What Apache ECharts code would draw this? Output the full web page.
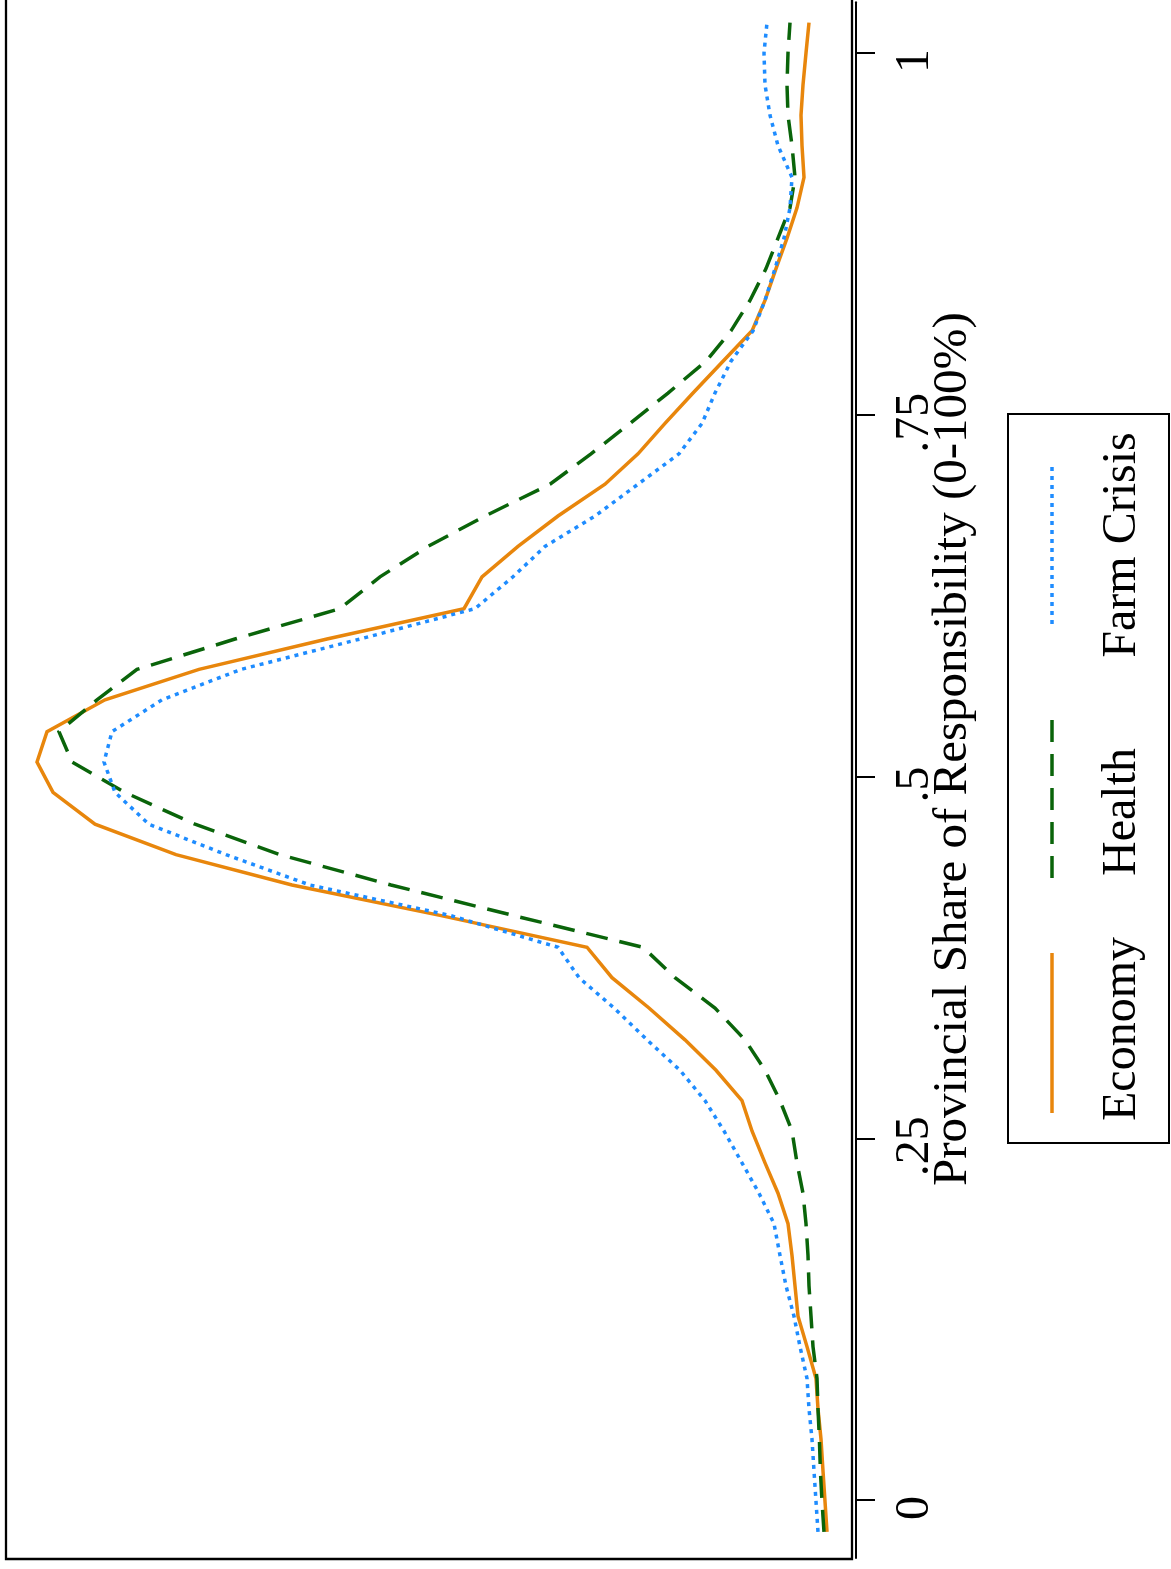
<!DOCTYPE html>
<html>
<head>
<meta charset="utf-8">
<script src="https://cdn.jsdelivr.net/npm/echarts@6/dist/echarts.min.js"></script>
<style>
html,body{margin:0;padding:0;background:#fff;}
#chart{width:1171px;height:1569px;}
</style>
</head>
<body>
<div id="chart"></div>
<script>
// Evaluation points of the kernel density (provincial share, 0-1)
const shares = [-0.022,-0.001,0.020,0.042,0.063,0.084,0.106,0.127,0.148,0.169,
  0.191,0.212,0.233,0.255,0.276,0.297,0.318,0.340,0.361,0.382,
  0.404,0.425,0.446,0.467,0.489,0.510,0.531,0.553,0.574,0.595,
  0.616,0.638,0.659,0.680,0.702,0.723,0.744,0.765,0.787,0.808,
  0.829,0.851,0.872,0.893,0.914,0.936,0.957,0.978,1.000,1.021];

const economy = [0.145,0.155,0.165,0.175,0.190,0.200,0.245,0.290,0.305,0.320,
  0.340,0.390,0.455,0.520,0.570,0.700,0.855,1.035,1.220,1.345,
  2.080,2.820,3.400,3.805,4.015,4.095,4.045,3.755,3.285,2.645,
  1.960,1.870,1.690,1.490,1.255,1.090,0.955,0.815,0.665,0.520,
  0.455,0.400,0.345,0.295,0.260,0.270,0.275,0.265,0.250,0.235];

const health = [0.160,0.170,0.178,0.183,0.190,0.195,0.215,0.225,0.235,0.240,
  0.250,0.265,0.295,0.320,0.380,0.455,0.555,0.705,0.905,1.065,
  1.715,2.325,2.880,3.305,3.655,3.920,3.985,3.795,3.595,3.105,
  2.580,2.380,2.140,1.855,1.530,1.325,1.130,0.940,0.750,0.625,
  0.530,0.450,0.390,0.330,0.305,0.320,0.340,0.345,0.340,0.330];

const farmCrisis = [0.190,0.200,0.210,0.220,0.235,0.245,0.280,0.310,0.350,0.380,
  0.410,0.485,0.570,0.660,0.755,0.880,1.045,1.210,1.385,1.490,
  2.030,2.730,3.150,3.535,3.705,3.760,3.720,3.470,3.075,2.480,
  1.905,1.715,1.555,1.305,1.090,0.885,0.770,0.705,0.625,0.515,
  0.455,0.405,0.360,0.330,0.320,0.390,0.430,0.455,0.460,0.445];

const seriesNames = ['Economy','Health','Farm Crisis'];
const tickValues = [0, 0.25, 0.5, 0.75, 1];
const tickLabels = ['0', '.25', '.5', '.75', '1'];
const axisTitle = 'Provincial Share of Responsibility (0-100%)';

const colors = ['#e8860c', '#0a640a', '#1e8cff'];
const dashes = ['solid', [22, 12], [4, 5]];
const FONT = '"Liberation Serif", "Times New Roman", serif';

function pairs(dens) { return dens.map((d, i) => [d, shares[i]]); }
const allSeries = [economy, health, farmCrisis];

const chart = echarts.init(document.getElementById('chart'), null, {renderer: 'canvas'});

const legendKeys = [
  {y1: 953, y2: 1113, ty: 1029},
  {y1: 720, y2: 880, ty: 812},
  {y1: 467, y2: 627, ty: 545}
];

const graphics = [
  {type: 'rect', shape: {x: 6, y: -10, width: 846, height: 1569},
   style: {fill: 'none', stroke: '#000', lineWidth: 2.3}, z: 0},
  {type: 'rect', shape: {x: 1008, y: 414, width: 161, height: 729},
   style: {fill: '#fff', stroke: '#000', lineWidth: 2}, z: 10}
];
legendKeys.forEach((k, i) => {
  graphics.push({type: 'line', shape: {x1: 1052, y1: k.y1, x2: 1052, y2: k.y2},
    style: {stroke: colors[i], lineWidth: 3.5, lineDash: dashes[i] === 'solid' ? null : dashes[i], lineCap: 'butt'}, z: 11});
  graphics.push({type: 'text', x: 1122, y: k.ty, rotation: Math.PI / 2,
    style: {text: seriesNames[i], fill: '#000', font: '48px ' + FONT,
      align: 'center', verticalAlign: 'middle', textAlign: 'center', textVerticalAlign: 'middle'}, z: 11});
});

chart.setOption({
  animation: false,
  backgroundColor: '#fff',
  grid: {left: 6, right: 315, top: 2.355, bottom: 11.12, containLabel: false},
  xAxis: {type: 'value', min: 0, max: 4.25, inverse: true, show: false},
  yAxis: {
    type: 'value', position: 'right', min: -0.04, max: 1.035,
    splitLine: {show: false},
    axisLine: {show: true, lineStyle: {color: '#000', width: 2}},
    axisTick: {show: true, customValues: tickValues, length: 19, inside: false,
      lineStyle: {color: '#000', width: 2}},
    axisLabel: {show: true, customValues: tickValues, rotate: 90, margin: 35,
      padding: [0, 16, 0, 0],
      formatter: function (v) { const i = tickValues.indexOf(v); return i >= 0 ? tickLabels[i] : ''; },
      fontSize: 48, fontFamily: FONT, color: '#000'},
    name: axisTitle, nameLocation: 'middle', nameRotate: 90, nameGap: 73,
    nameMoveOverlap: false,
    nameTextStyle: {fontSize: 49, fontFamily: FONT, color: '#000',
      align: 'center', verticalAlign: 'top', padding: [0, 0, 0, 62]}
  },
  series: allSeries.map((d, i) => ({
    name: seriesNames[i], type: 'line', data: pairs(d), showSymbol: false,
    symbol: 'none', smooth: false, clip: false,
    lineStyle: {color: colors[i], width: 3.5, type: dashes[i], cap: 'butt', join: 'miter'},
    z: 2 + i
  })),
  graphic: graphics
});
</script>
</body>
</html>
